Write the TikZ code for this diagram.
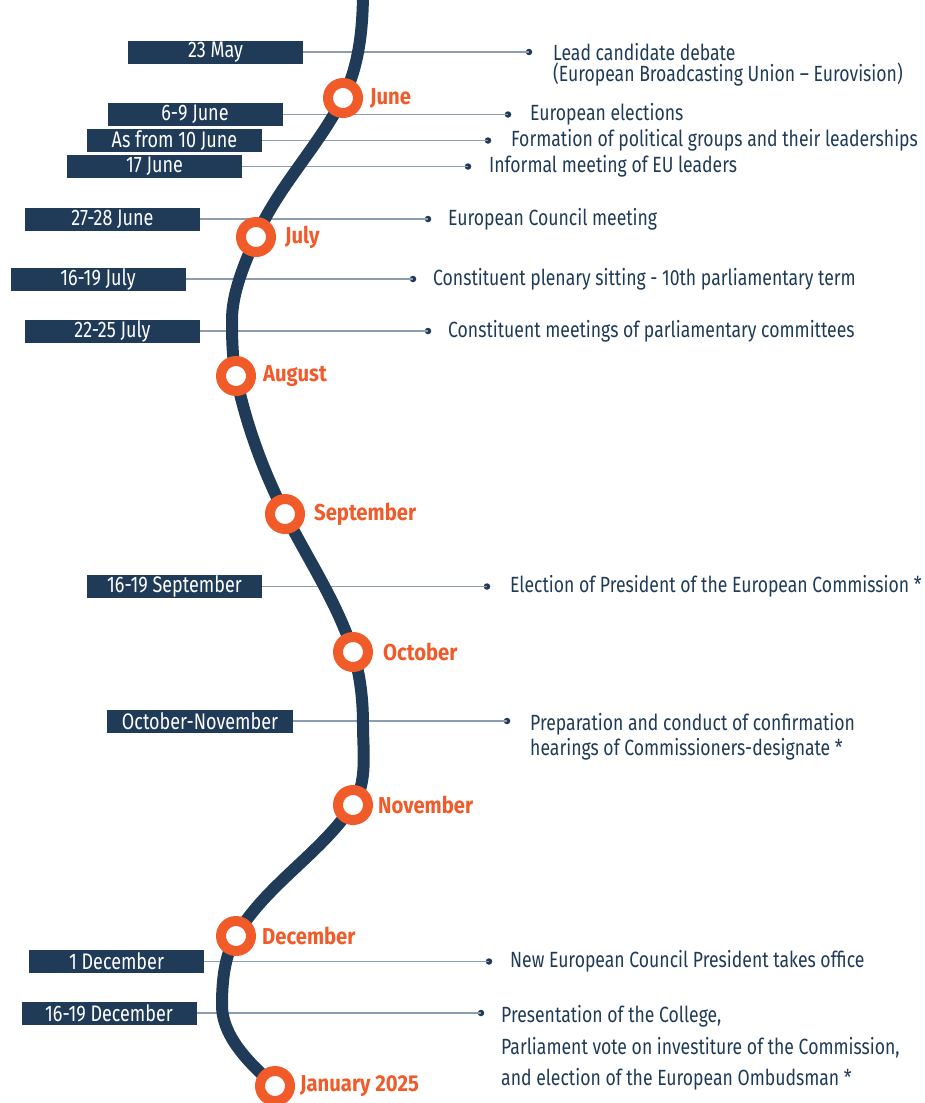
\documentclass[tikz,border=0pt]{standalone}
\usepackage{fontspec}
\setmainfont{Fira Sans}[FakeStretch=0.8]
\newfontfamily\monthfont{Fira Sans}[FakeStretch=0.88]
\definecolor{navy}{HTML}{1F3B58}
\definecolor{ora}{HTML}{F15A29}
\definecolor{connc}{HTML}{8C9DB0}
\begin{document}
\begin{tikzpicture}[x=1pt,y=-1pt,
 datebox/.style={fill=navy,text=white,minimum width=175pt,minimum height=23pt,inner sep=0pt,font=\fontsize{22.5}{24}\selectfont},
 conn/.style={draw=connc,line width=1.6pt},
 dot/.style={circle,fill=navy,inner sep=0pt,minimum size=6.5pt},
 desc/.style={anchor=west,text=navy,font=\fontsize{22}{22}\selectfont,inner sep=0pt,align=left},
 month/.style={anchor=west,text=ora,font=\monthfont\bfseries\fontsize{23}{24}\selectfont,inner sep=0pt},
 ring/.style={circle,draw=ora,line width=10pt,fill=white,minimum size=30pt,inner sep=0pt},
 timeline/.style={draw=navy,line width=12pt}
]
\useasboundingbox (0,0) rectangle (924,1103);

% date boxes
\node[datebox] (b1) at (215.5,52) {23 May};
\node[datebox] (b2) at (195,114.5) {6-9 June};
\node[datebox] (b3) at (174.5,140.5) {As from 10 June};
\node[datebox] (b4) at (154.5,166.5) {17 June};
\node[datebox] (b5) at (112.5,219) {27-28 June};
\node[datebox] (b6) at (98,279) {16-19 July};
\node[datebox] (b7) at (112.5,331) {22-25 July};
\node[datebox] (b8) at (174.5,586.5) {16-19 September};
\node[datebox,minimum width=186pt] (b9) at (200,721) {October-November};
\node[datebox] (b10) at (116.5,961.5) {1 December};
\node[datebox] (b11) at (109,1013) {16-19 December};

% dots
\node[dot] (d1) at (529,52) {};
\node[dot] (d2) at (508,114.5) {};
\node[dot] (d3) at (488,140.5) {};
\node[dot] (d4) at (468,166.5) {};
\node[dot] (d5) at (428,219) {};
\node[dot] (d6) at (413,279) {};
\node[dot] (d7) at (428,331) {};
\node[dot] (d8) at (487,586.5) {};
\node[dot] (d9) at (507,721) {};
\node[dot] (d10) at (489,961.5) {};
\node[dot] (d11) at (481,1013) {};

% connectors
\foreach \i in {1,...,11} { \draw[conn] (b\i.east) -- (d\i.center); }

% descriptions
\node[desc] (t1) at (553,64.5) {Lead candidate debate\\[-1pt](European Broadcasting Union -- Eurovision)};
\node[desc] (t2) at (530,114.5) {European elections};
\node[desc] (t3) at (511,140.5) {Formation of political groups and their leaderships};
\node[desc] (t4) at (489,166.5) {Informal meeting of EU leaders};
\node[desc] (t5) at (448,219) {European Council meeting};
\node[desc] (t6) at (433,279) {Constituent plenary sitting - 10th parliamentary term};
\node[desc] (t7) at (448,331) {Constituent meetings of parliamentary committees};
\node[desc] (t8) at (510,586.5) {Election of President of the European Commission *};
\node[desc] (t9) at (530,737) {Preparation and conduct of confirmation\\[3pt]hearings of Commissioners-designate *};
\node[desc] (t10) at (510,961.5) {New European Council President takes office};
\node[desc] (t11) at (501,1048) {Presentation of the College,\\[9.5pt]Parliament vote on investiture of the Commission,\\[9.5pt]and election of the European Ombudsman *};

% month positions
\coordinate (cJun) at (343,98);
\coordinate (cJul) at (256,237);
\coordinate (cAug) at (236,376);
\coordinate (cSep) at (285,514);
\coordinate (cOct) at (353,652);
\coordinate (cNov) at (353,805);
\coordinate (cDec) at (236,936);
\coordinate (cJan) at (275,1086);
\coordinate (top) at (363,-10);
\coordinate (tr1) at (232,320);
\coordinate (pk1) at (363,725);
\coordinate (tr2) at (222,1005);

% timeline curve
\draw[timeline] (top)
  .. controls (363,26.7) and (359.5,65.3) .. (cJun)
  .. controls (318.4,146.7) and (277.9,186.7) .. (cJul)
  .. controls (244.3,264) and (232,292.7) .. (tr1)
  .. controls (232,338.7) and (232.3,357.7) .. (cAug)
  .. controls (245.8,423.8) and (263,470.6) .. (cSep)
  .. controls (308.1,559.7) and (337.6,603.3) .. (cOct)
  .. controls (360.4,675.4) and (363,700.4) .. (pk1)
  .. controls (363,751.9) and (367.8,782.5) .. (cNov)
  .. controls (320.8,853.8) and (265.3,885.1) .. (cDec)
  .. controls (224.3,956.4) and (222,981.5) .. (tr2)
  .. controls (222,1037.3) and (250.8,1064.7) .. (cJan);

% month rings
\node[ring] (m1) at (cJun) {};
\node[ring] (m2) at (cJul) {};
\node[ring] (m3) at (cAug) {};
\node[ring] (m4) at (cSep) {};
\node[ring] (m5) at (cOct) {};
\node[ring] (m6) at (cNov) {};
\node[ring] (m7) at (cDec) {};
\node[ring] (m8) at (cJan) {};

\node[month] (l1) at ([xshift=27pt]m1.center) {June};
\node[month] (l2) at ([xshift=29pt]m2.center) {July};
\node[month] (l3) at ([xshift=27pt]m3.center) {August};
\node[month] (l4) at ([xshift=29pt]m4.center) {September};
\node[month] (l5) at ([xshift=30pt]m5.center) {October};
\node[month] (l6) at ([xshift=25pt]m6.center) {November};
\node[month] (l7) at ([xshift=26pt]m7.center) {December};
\node[month] (l8) at ([xshift=25pt]m8.center) {January 2025};
\end{tikzpicture}
\end{document}
